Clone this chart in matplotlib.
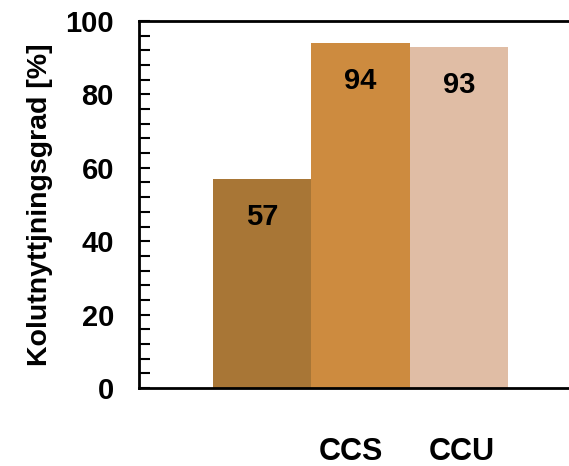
import matplotlib
matplotlib.use("Agg")
import matplotlib.pyplot as plt
from matplotlib.ticker import MultipleLocator
from matplotlib.transforms import ScaledTranslation

plt.rcParams['font.family'] = ['Liberation Sans', 'DejaVu Sans']

categories = ["", "CCS", "CCU"]
values = [57, 94, 93]
colors = ["#A87636", "#CD8B3F", "#E0BDA5"]
y_ticks = [0, 20, 40, 60, 80, 100]
y_label = "Kolutnyttjningsgrad [%]"

fig = plt.figure(figsize=(5.69, 4.66), dpi=100)
ax = fig.add_axes([139 / 569, 1 - 388 / 466, 1 - 139 / 569, (388 - 21) / 466])

x = list(range(len(values)))
ax.bar(x, values, width=1.0, color=colors, edgecolor='none', zorder=2)

for xi, v in zip(x, values):
    ax.text(xi, v - 38 * 100 / 367, str(v), ha='center', va='center',
            fontsize=21, fontweight='bold', color='black', zorder=3)

ax.set_xlim(-1.25, 3.12)
ax.set_ylim(0, 100)
ax.set_xticks(x)
ax.set_xticklabels(categories, fontsize=22, fontweight='bold')
ax.tick_params(axis='x', length=0, pad=35)

# nudge the category labels slightly apart
shifts = [0.0, -0.09, 0.03]
for lab, dx in zip(ax.get_xticklabels(), shifts):
    lab.set_transform(lab.get_transform() + ScaledTranslation(dx, 0, fig.dpi_scale_trans))

ax.set_yticks(y_ticks)
ax.yaxis.set_minor_locator(MultipleLocator(4))
ax.tick_params(axis='y', which='both', direction='in', length=8, width=1.5,
               labelsize=21, pad=18)
for lab in ax.get_yticklabels():
    lab.set_fontweight('bold')

ax.set_ylabel(y_label, fontsize=20.5, fontweight='bold', labelpad=9)

for side in ['left', 'top', 'bottom']:
    ax.spines[side].set_linewidth(2)
ax.spines['right'].set_visible(False)

fig.savefig("out.png", dpi=100)
